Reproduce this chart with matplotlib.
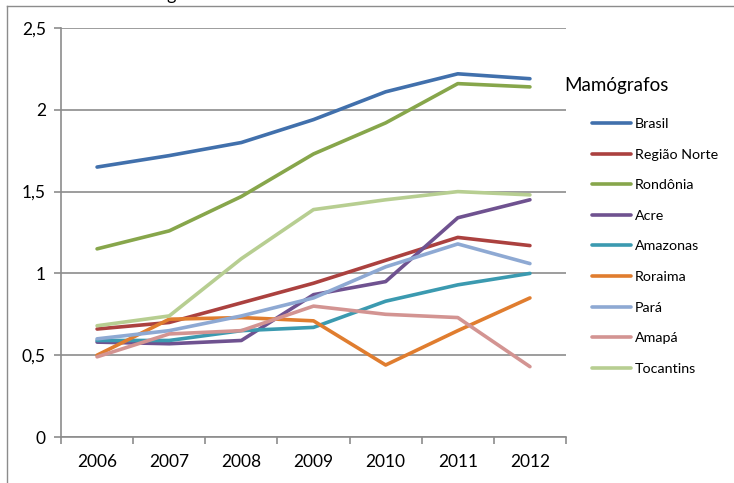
import matplotlib
matplotlib.use("Agg")
import matplotlib.pyplot as plt
from matplotlib.ticker import FixedLocator, NullFormatter

plt.rcParams['font.family'] = ['Lato', 'DejaVu Sans']

years = ['2006', '2007', '2008', '2009', '2010', '2011', '2012']

brasil = [1.65, 1.72, 1.80, 1.94, 2.11, 2.22, 2.19]
regiao_norte = [0.66, 0.70, 0.82, 0.94, 1.08, 1.22, 1.17]
rondonia = [1.15, 1.26, 1.47, 1.73, 1.92, 2.16, 2.14]
acre = [0.58, 0.57, 0.59, 0.87, 0.95, 1.34, 1.45]
amazonas = [0.59, 0.59, 0.65, 0.67, 0.83, 0.93, 1.00]
roraima = [0.50, 0.72, 0.73, 0.71, 0.44, 0.65, 0.85]
para = [0.60, 0.65, 0.74, 0.85, 1.04, 1.18, 1.06]
amapa = [0.49, 0.63, 0.65, 0.80, 0.75, 0.73, 0.43]
tocantins = [0.68, 0.74, 1.09, 1.39, 1.45, 1.50, 1.48]

series = [
    ('Brasil', brasil, '#4170AC'),
    ('Região Norte', regiao_norte, '#AB413F'),
    ('Rondônia', rondonia, '#87A64B'),
    ('Acre', acre, '#6F5290'),
    ('Amazonas', amazonas, '#3B9AB0'),
    ('Roraima', roraima, '#E07D2F'),
    ('Pará', para, '#8EA9D3'),
    ('Amapá', amapa, '#D39492'),
    ('Tocantins', tocantins, '#B7CE91'),
]

W, H = 734, 483
fig = plt.figure(figsize=(W / 100, H / 100), dpi=100)
ax = fig.add_axes([61 / W, (H - 437) / H, (566 - 61) / W, (437 - 28) / H])

grid_color = '#8C8C8C'
x = list(range(len(years)))
for name, vals, color in series:
    ax.plot(x, vals, color=color, linewidth=2.6, solid_capstyle='round',
            solid_joinstyle='round', label=name, zorder=3)

ax.set_xlim(-0.5, len(years) - 0.5)
ax.set_ylim(0, 2.5)
ax.set_yticks([0, 0.5, 1, 1.5, 2, 2.5])
ax.set_yticklabels(['0', '0,5', '1', '1,5', '2', '2,5'])
ax.yaxis.grid(True, color=grid_color, linewidth=1.2, zorder=0)
ax.set_xticks(x)
ax.set_xticklabels(years)
ax.xaxis.set_minor_locator(FixedLocator([i - 0.5 for i in range(len(years) + 1)]))
ax.xaxis.set_minor_formatter(NullFormatter())
ax.tick_params(axis='x', which='major', length=0, pad=12, labelsize=12.5)
ax.tick_params(axis='x', which='minor', length=5, width=1.2, color=grid_color)
ax.tick_params(axis='y', length=5, width=1.2, color=grid_color, pad=6, labelsize=12.5)

for side in ['top', 'right']:
    ax.spines[side].set_visible(False)
for side in ['left', 'bottom']:
    ax.spines[side].set_color(grid_color)
    ax.spines[side].set_linewidth(1.2)

# chart border (left and top visible)
fig.add_artist(plt.Line2D([7 / W, 7 / W], [0, 1 - 6 / H], transform=fig.transFigure,
                          color='#8C8C8C', linewidth=1.0))
fig.add_artist(plt.Line2D([7 / W, 1], [1 - 6 / H, 1 - 6 / H], transform=fig.transFigure,
                          color='#8C8C8C', linewidth=1.0))
fig.text(25 / W, 1 - 3 / H, 'Número de mamógrafos', fontsize=13, va='bottom', ha='left')

fig.text(564 / W, (H - 85) / H, 'Mamógrafos', fontsize=13.5, va='center', ha='left')
handles, labels = ax.get_legend_handles_labels()
fig.legend(handles, labels, loc='upper left', bbox_to_anchor=(592 / W, (H - 118) / H),
           frameon=False, fontsize=10.3, handlelength=2.7, handletextpad=0.3,
           labelspacing=1.3, borderpad=0, borderaxespad=0)

fig.savefig('out.png', dpi=100)
